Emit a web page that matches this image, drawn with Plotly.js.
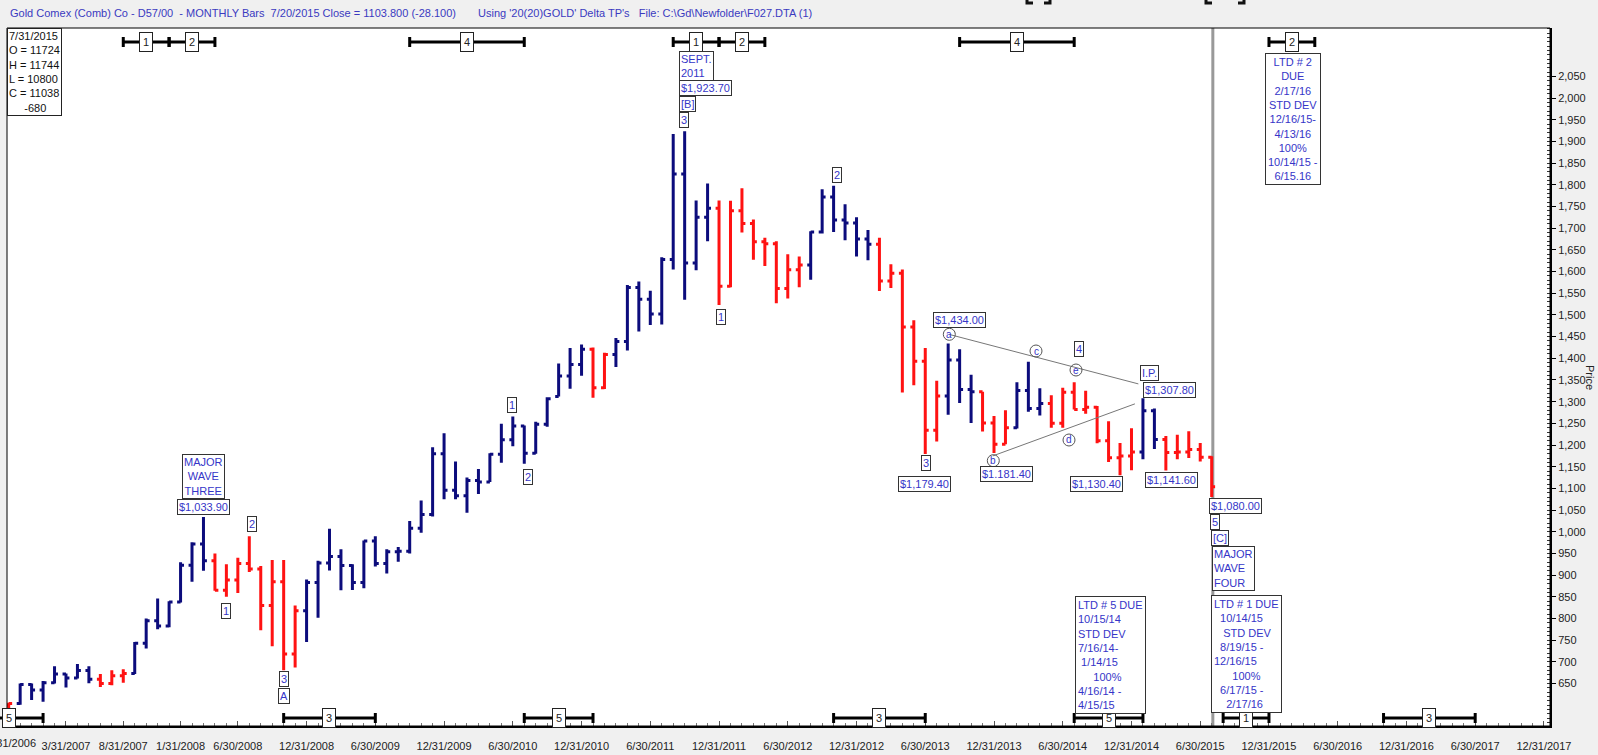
<!DOCTYPE html>
<html><head><meta charset="utf-8">
<script src="https://cdn.plot.ly/plotly-3.0.1.min.js"></script>
<style>html,body{margin:0;padding:0;background:#f0f0f0;overflow:hidden}#chart{width:1598px;height:755px}</style>
</head><body><div id="chart"></div>
<script>
// ---- DATA: monthly bars, Oct 2006 .. Jul 2015 ----
const months = [
 "Oct 2006","Nov 2006","Dec 2006",
 "Jan 2007","Feb 2007","Mar 2007","Apr 2007","May 2007","Jun 2007","Jul 2007","Aug 2007","Sep 2007","Oct 2007","Nov 2007","Dec 2007",
 "Jan 2008","Feb 2008","Mar 2008","Apr 2008","May 2008","Jun 2008","Jul 2008","Aug 2008","Sep 2008","Oct 2008","Nov 2008","Dec 2008",
 "Jan 2009","Feb 2009","Mar 2009","Apr 2009","May 2009","Jun 2009","Jul 2009","Aug 2009","Sep 2009","Oct 2009","Nov 2009","Dec 2009",
 "Jan 2010","Feb 2010","Mar 2010","Apr 2010","May 2010","Jun 2010","Jul 2010","Aug 2010","Sep 2010","Oct 2010","Nov 2010","Dec 2010",
 "Jan 2011","Feb 2011","Mar 2011","Apr 2011","May 2011","Jun 2011","Jul 2011","Aug 2011","Sep 2011","Oct 2011","Nov 2011","Dec 2011",
 "Jan 2012","Feb 2012","Mar 2012","Apr 2012","May 2012","Jun 2012","Jul 2012","Aug 2012","Sep 2012","Oct 2012","Nov 2012","Dec 2012",
 "Jan 2013","Feb 2013","Mar 2013","Apr 2013","May 2013","Jun 2013","Jul 2013","Aug 2013","Sep 2013","Oct 2013","Nov 2013","Dec 2013",
 "Jan 2014","Feb 2014","Mar 2014","Apr 2014","May 2014","Jun 2014","Jul 2014","Aug 2014","Sep 2014","Oct 2014","Nov 2014","Dec 2014",
 "Jan 2015","Feb 2015","Mar 2015","Apr 2015","May 2015","Jun 2015","Jul 2015"];

const open = [600,604,648,635,652,672,663,680,660,650,668,
 673,743,795,783,838,923,972,933,865,889,927,914,830,885,718,
 818,883,928,943,922,883,979,927,954,955,1008,1040,1180,1096,1083,1118,1115,1179,1212,1244,1181,1248,1312,1359,1386,
 1421,1332,
 1409,1439,1563,1536,1502,1628,1825,1620,1725,
 1746,1566,1740,1711,1669,1664,1561,1604,
 1615,1691,1772,1719,1712,1675,
 1663,1578,1596,1472,1393,1234,
 1313,1396,1328,
 1323,1251,1202,
 1240,1326,1284,
 1296,1250,1322,1282,1287,1210,1171,1175,
 1184,1279,
 1213,1183,1184,1190,1172];
const high = [606,650,650,656,690,673,695,690,672,681,683,
 746,800,846,840,930,976,1033.9,950,925,940,990,921,935,935,830,
 890,933,1007,960,925,980,990,960,965,1025,1072,1195,1227,1162,1125,1145,1181,1249,1266,1245,1254,1310,1388,1424,1432,
 1425,1413,
 1447,1569,1577,1556,1633,1917,1923.7,1764,1803,
 1764,1763,1792,1720,1678,1670,1640,1635,
 1693,1790,1798,1755,1725,1696,
 1678,1617,1605,1488,1424,1348,
 1434,1421,1362,
 1323,1267,1280,
 1345,1392,1331,
 1315,1332,1345,1325,1290,1255,1205,1239,
 1307.8,1284,
 1221,1224,1232,1205,1174];
const low = [560,601,612,608,650,641,662,651,642,646,652,
 672,731,775,780,837,885,910,864,850,859,907,773,736,681,687,
 746,802,911,865,866,870,920,904,931,950,998,1035,1075,1075,1044,1087,1115,1159,1197,1157,1180,1242,1312,1330,1360,
 1309,1329,
 1380,1418,1462,1477,1478,1605,1535,1603,1670,
 1523,1564,1690,1627,1613,1527,1538,1564,
 1581,1688,1691,1672,1635,1626,
 1555,1562,1321,1338,1179.4,1208,
 1270,1297,1251,
 1231,1181.4,1202,
 1238,1277,1268,
 1240,1240,1282,1272,1204,1161,1130.4,1142,
 1167,1191,
 1141.6,1167,1170,1162,1080];
const close = [604,648,635,652,672,663,680,660,650,668,673,
 743,795,783,838,923,972,933,865,889,927,914,830,885,718,818,
 883,928,943,922,883,979,927,954,955,1008,1040,1180,1096,1083,1118,1115,1179,1212,1244,1181,1248,1307,1359,1386,1421,
 1332,1409,
 1439,1563,1536,1502,1628,1825,1620,1725,1746,
 1566,1740,1711,1669,1664,1561,1604,1615,
 1691,1772,1719,1712,1675,1663,
 1578,1596,1472,1393,1234,1313,
 1396,1328,1323,
 1251,1202,1240,
 1326,1284,1296,
 1250,1322,1282,1287,1210,1171,1175,1184,
 1279,1213,
 1183,1184,1190,1172,1104];
// bar colour state: N = navy (up trend), R = red (down trend)
const trend = ["R","N","N","N","N","N","N","N","R","R","R",
 "N","N","N","N","N","N","N","R","R","R","R","R","R","R","R",
 "N","N","N","N","N","N","N","N","N","N","N","N","N","N","N","N","N","N","N","N","N","N","N","N","N",
 "R","R",
 "N","N","N","N","N","N","N","N","N",
 "R","R","R","R","R","R","R","R",
 "N","N","N","N","N","N",
 "R","R","R","R","R","R",
 "N","N","N",
 "R","R","R",
 "N","N","N",
 "R","R","R","R","R","R","R","R",
 "N","N",
 "R","R","R","R","R"];

// x tick labels (month-end dates at bar positions)
const tickMonth = [0,5,10,15,20,26,32,38,44,50,56,62,68,74,80,86,92,98,104,110,116,122,128,134];
const tickText = ["10/31/2006","3/31/2007","8/31/2007","1/31/2008","6/30/2008","12/31/2008","6/30/2009","12/31/2009",
 "6/30/2010","12/31/2010","6/30/2011","12/31/2011","6/30/2012","12/31/2012","6/30/2013","12/31/2013",
 "6/30/2014","12/31/2014","6/30/2015","12/31/2015","6/30/2016","12/31/2016","6/30/2017","12/31/2017"];
const priceTicks = [650,700,750,800,850,900,950,1000,1050,1100,1150,1200,1250,1300,1350,1400,1450,1500,1550,1600,1650,1700,1750,1800,1850,1900,1950,2000,2050];

// time-band cycle markers [start bar, end bar, label]
const topBands = [[10,14,"1"],[14,18,"2"],[35,45,"4"],[58,62,"1"],[62,66,"2"],[83,93,"4"],[110,114,"2"]];
const botBands = [[-3,3,"5"],[24,32,"3"],[45,51,"5"],[72,80,"3"],[93,99,"5"],[106,110,"1"],[120,128,"3"]];

// ---- LAYOUT GEOMETRY ----
const W=1598,H=755,L=7,R=1550,T=28,B=726;
const BAR0=8.7, STEP=11.457;           // pixel of bar 0, pixels per month
const XR=[(L-BAR0)/STEP,(R-BAR0)/STEP];
const YR=[552.2,2161.6];
const px = X => (X-L)/(R-L);
const py = Y => (B-Y)/(B-T);
const bx = i => BAR0+STEP*i;
const FONT="Arial, 'Liberation Sans', sans-serif";
const BLUE="#3535c8", NAVY="#0c0c7c", RED="#ff1212";

const idx = months.map((m,i)=>i);
function ohlcTrace(flag,color){
  const sel = idx.filter(i=>trend[i]===flag);
  return {type:'ohlc', x:sel, open:sel.map(i=>open[i]), high:sel.map(i=>high[i]),
    low:sel.map(i=>low[i]), close:sel.map(i=>close[i]), tickwidth:0.3, hoverinfo:'skip',
    increasing:{line:{color:color,width:3}}, decreasing:{line:{color:color,width:3}}, showlegend:false};
}

const shapes=[], annotations=[];
// frame
shapes.push({type:'rect',xref:'paper',yref:'paper',x0:0,x1:1,y0:0,y1:1,line:{color:'#000',width:1}});
// current-date line
shapes.push({type:'line',xref:'paper',yref:'paper',x0:px(bx(105.1)),x1:px(bx(105.1)),y0:0,y1:1,line:{color:'#999',width:3},layer:'below'});
// triangle lines
shapes.push({type:'line',xref:'x',yref:'y',x0:82.1,y0:1455,x1:98.6,y1:1341,line:{color:'#777',width:1}});
shapes.push({type:'line',xref:'x',yref:'y',x0:85.9,y0:1175,x1:98.3,y1:1295,line:{color:'#777',width:1}});
// clipped bracket glyphs at the very top edge
[[1027,1050],[1206,1244]].forEach(([a,b])=>{
  shapes.push({type:'path',xref:'paper',yref:'paper',
    path:`M${px(a)},${py(-4)} L${px(a)},${py(3)} L${px(a+6)},${py(3)} M${px(b-6)},${py(3)} L${px(b)},${py(3)} L${px(b)},${py(-4)}`,
    line:{color:'#111',width:3}});
});

function box(text,X,Y,o){
  return Object.assign({xref:'paper',yref:'paper',x:px(X),y:py(Y),text:text,showarrow:false,
    xanchor:'center',yanchor:'middle',align:'center',font:{family:FONT,size:11,color:BLUE},
    bgcolor:'#ffffff',bordercolor:'#333',borderwidth:1,borderpad:1},o||{});
}
function bands(list,Y){
  list.forEach(([a,b,lab])=>{
    const xa=Math.max(bx(a),-5), xb=bx(b);
    shapes.push({type:'line',xref:'paper',yref:'paper',x0:px(xa),x1:px(xb),y0:py(Y),y1:py(Y),line:{color:'#000',width:3}});
    [a,b].forEach(k=>{ if(bx(k)>0) shapes.push({type:'line',xref:'paper',yref:'paper',x0:px(bx(k)),x1:px(bx(k)),y0:py(Y-5),y1:py(Y+5),line:{color:'#000',width:3}}); });
    annotations.push(box(lab,bx((a+b)/2),Y,{font:{family:FONT,size:11,color:'#222'},borderpad:3,bordercolor:'#222'}));
  });
}
bands(topBands,42);
bands(botBands,718);

const nb = n => '\u00a0'.repeat(n);
// header
annotations.push({xref:'paper',yref:'paper',x:px(8),y:py(13),xanchor:'left',yanchor:'middle',showarrow:false,
  text:'Gold Comex (Comb) Co - D57/00 \u00a0- MONTHLY Bars \u00a07/20/2015 Close = 1103.800 (-28.100)',font:{family:FONT,size:11,color:'#3a3ac0'}});
annotations.push({xref:'paper',yref:'paper',x:px(476),y:py(13),xanchor:'left',yanchor:'middle',showarrow:false,
  text:"Using '20(20)GOLD' Delta TP's \u00a0\u00a0File: C:\\Gd\\Newfolder\\F027.DTA (1)",font:{family:FONT,size:11,color:'#3a3ac0'}});
// info box
annotations.push(box('7/31/2015<br>O = 11724<br>H = 11744<br>L = 10800<br>C = 11038<br>'+nb(5)+'-680',7,28,
  {xanchor:'left',yanchor:'top',align:'left',font:{family:FONT,size:11,color:'#111'},borderpad:1,bordercolor:'#222'}));

// wave labels
annotations.push(box('MAJOR<br>WAVE<br>THREE',203,477));
annotations.push(box('$1,033.90',203,507));
annotations.push(box('2',251.5,523.7));
annotations.push(box('1',226,611));
annotations.push(box('3',283.7,679.3));
annotations.push(box('A',283.7,696));
annotations.push(box('1',511.6,404.6));
annotations.push(box('2',528,477));
annotations.push(box('SEPT.<br>2011',679.3,66.3,{xanchor:'left',align:'left'}));
annotations.push(box('$1,923.70',679,88.3,{xanchor:'left'}));
annotations.push(box('[B]',679,104,{xanchor:'left'}));
annotations.push(box('3',679,119.7,{xanchor:'left'}));
annotations.push(box('1',720.8,317.3));
annotations.push(box('2',836.7,175));
annotations.push(box('$1,434.00',960,320));
annotations.push(box('4',1079,349));
annotations.push(box('I.P.',1149,373));
annotations.push(box('$1,307.80',1169,389.5));
annotations.push(box('3',925.5,463));
annotations.push(box('$1,179.40',924,484));
annotations.push(box('$1.181.40',1006,474));
annotations.push(box('$1,130.40',1096.5,484));
annotations.push(box('$1,141.60',1171,479.5));
annotations.push(box('$1,080.00',1235,506.3));
annotations.push(box('5',1215,522.3));
annotations.push(box('[C]',1220.3,537.5));
annotations.push(box('MAJOR<br>WAVE<br>FOUR',1211.7,568.3,{xanchor:'left',align:'left'}));
annotations.push(box(['LTD # 5 DUE','10/15/14','STD DEV','7/16/14-',nb(1)+'1/14/15',nb(5)+'100%','4/16/14 -','4/15/15'].join('<br>'),
  1075,596,{xanchor:'left',yanchor:'top',align:'left',borderpad:2}));
annotations.push(box(['LTD # 1 DUE',nb(2)+'10/14/15',nb(3)+'STD DEV',nb(2)+'8/19/15 -','12/16/15',nb(6)+'100%',nb(2)+'6/17/15 -',nb(4)+'2/17/16'].join('<br>'),
  1211,595,{xanchor:'left',yanchor:'top',align:'left',borderpad:2}));
annotations.push(box(['LTD # 2','DUE','2/17/16','STD DEV','12/16/15-','4/13/16','100%','10/14/15 -','6/15.16'].join('<br>'),
  1293,53,{yanchor:'top',borderpad:2}));

// circled wave letters
[['a',949.3,334.3],['c',1036,351],['e',1076,370],['d',1069,440],['b',993.3,460.7]].forEach(([t,X,Y])=>{
  shapes.push({type:'circle',xref:'paper',yref:'paper',x0:px(X-6),x1:px(X+6),y0:py(Y+6),y1:py(Y-6),line:{color:'#555',width:1}});
  annotations.push({xref:'paper',yref:'paper',x:px(X),y:py(Y),text:t,showarrow:false,xanchor:'center',yanchor:'middle',
    font:{family:FONT,size:10,color:BLUE}});
});
// first date label, clipped by the page edge as in the reference
annotations.push({xref:'paper',yref:'paper',x:px(bx(0)),y:py(743),text:tickText[0],showarrow:false,xanchor:'center',yanchor:'middle',
  font:{family:FONT,size:11,color:'#222'}});
// axis title
annotations.push({xref:'paper',yref:'paper',x:px(1590),y:py(377),text:'Price',textangle:90,showarrow:false,
  xanchor:'center',yanchor:'middle',font:{family:FONT,size:11,color:'#222'}});

const layout = {
  width:W,height:H,margin:{l:L,r:W-R,t:T,b:H-B,pad:0},
  paper_bgcolor:'#f0f0f0',plot_bgcolor:'#ffffff',showlegend:false,
  xaxis:{range:XR,rangeslider:{visible:false},tickmode:'array',tickvals:tickMonth.slice(1),ticktext:tickText.slice(1),
    showgrid:false,zeroline:false,showline:true,linecolor:'#000',linewidth:2,ticks:'inside',ticklen:5,tickcolor:'#555',
    ticklabelstandoff:9,
    minor:{dtick:1,tick0:0,ticks:'inside',ticklen:3,tickcolor:'#777'},
    tickfont:{family:FONT,size:11,color:'#222'},fixedrange:true},
  yaxis:{range:YR,side:'right',tickmode:'array',tickvals:priceTicks,tickformat:',d',showgrid:false,zeroline:false,
    showline:true,linecolor:'#000',linewidth:2,ticks:'outside',ticklen:4,tickcolor:'#000',
    minor:{dtick:10,tick0:0,ticks:'inside',ticklen:3,tickcolor:'#333'},
    tickfont:{family:FONT,size:11,color:'#222'},fixedrange:true},
  shapes:shapes, annotations:annotations
};
Plotly.newPlot('chart',[ohlcTrace('N',NAVY),ohlcTrace('R',RED)],layout,{displayModeBar:false,staticPlot:true});
</script></body></html>
